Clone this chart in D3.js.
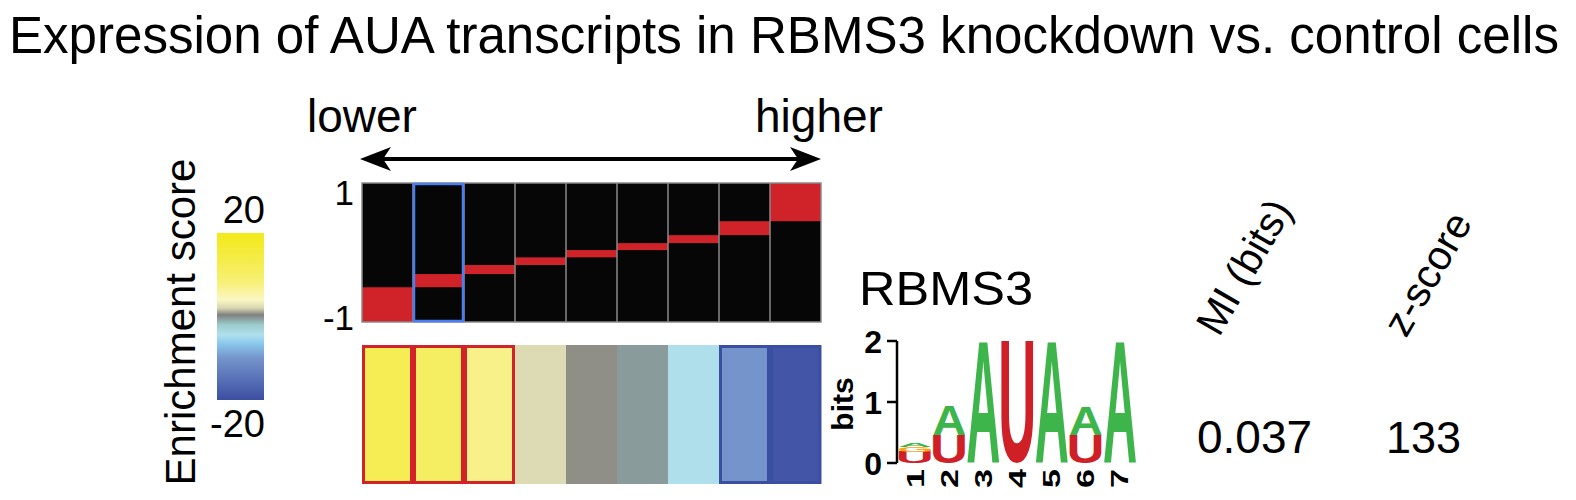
<!DOCTYPE html>
<html><head><meta charset="utf-8">
<script src="https://cdn.jsdelivr.net/npm/d3@7"></script>
<style>body{margin:0;background:#fff}svg{display:block}text{font-family:"Liberation Sans",Arial,sans-serif;fill:#000}</style>
</head><body><svg id="c" width="1576" height="500"></svg>
<script>
// ---------- data ----------
const titleText = "Expression of AUA transcripts in RBMS3 knockdown vs. control cells";
const directionLabels = ["lower", "higher"];
const binIndex = [0, 1, 2, 3, 4, 5, 6, 7, 8];
const binEdges = [-1, -0.50, -0.31, -0.18, -0.07, 0.035, 0.135, 0.25, 0.45, 1];
const enrichment = [12.3, 10.6, 7.2, 2.3, 0.67, -0.46, -4.3, -10, -19];
const significance = [1, 1, 1, 0, 0, 0, 0, -1, -1];
const highlightedBin = 1;
const colorStopValues = [20, 12, 8, 4, 2, 0.4, -2, -4.4, -6.3, -10, -20];
const colorStopColors = ["#f2ea18", "#f5ed55", "#f7f07a", "#fbf7c4", "#d8d6b0", "#808080", "#9ccccc", "#b0e0ec", "#8ccaee", "#7494cb", "#3c4ea2"];
const colorbarTicks = [20, -20];
const profileTicks = [1, -1];
const motifName = "RBMS3";
const motifPositions = [1, 2, 3, 4, 5, 6, 7];
const bitsU = [0.18, 0.46, 0, 2.0, 0, 0.46, 0];
const bitsG = [0.09, 0, 0, 0, 0, 0, 0];
const bitsA = [0.07, 0.49, 2.0, 0, 2.0, 0.46, 2.0];
const bitsTicks = [0, 1, 2];
const statHeaders = ["MI (bits)", "z-score"];
const statValues = ["0.037", "133"];

(function () {
const svg = d3.select("#c");

svg.append("text").attr("x", 9).attr("y", 53).attr("font-size", 51)
  .attr("textLength", 1550).attr("lengthAdjust", "spacingAndGlyphs").text(titleText);

// ---------- scales ----------
const x = d3.scaleBand().domain(binIndex).range([362, 821]).paddingInner(0);
const yProf = d3.scaleLinear().domain([-1, 1]).range([322, 183]);
const color = d3.scaleLinear().domain(colorStopValues).range(colorStopColors).clamp(true);

// ---------- direction arrow ----------
const ay = 159;
svg.append("line").attr("x1", 375).attr("x2", 807).attr("y1", ay).attr("y2", ay)
  .attr("stroke", "#000").attr("stroke-width", 4);
svg.append("path").attr("d", `M360,${ay} L391,${ay-12} L383,${ay} L391,${ay+12} Z`).attr("fill", "#000");
svg.append("path").attr("d", `M821,${ay} L790,${ay-12} L798,${ay} L790,${ay+12} Z`).attr("fill", "#000");
svg.append("text").attr("x", 307).attr("y", 132).attr("font-size", 46).text(directionLabels[0]);
svg.append("text").attr("x", 755).attr("y", 132).attr("font-size", 46).text(directionLabels[1]);

// ---------- top profile panel ----------
const topG = svg.append("g");
topG.selectAll("rect.bg").data(binIndex).join("rect")
  .attr("x", d => x(d)).attr("width", x.bandwidth())
  .attr("y", yProf(1)).attr("height", yProf(-1) - yProf(1))
  .attr("fill", "#060606");
topG.selectAll("rect.band").data(binIndex).join("rect")
  .attr("x", d => x(d)).attr("width", x.bandwidth())
  .attr("y", d => yProf(binEdges[d + 1])).attr("height", d => yProf(binEdges[d]) - yProf(binEdges[d + 1]))
  .attr("fill", "#cf2229");
topG.selectAll("line.sep").data(binIndex.slice(1)).join("line")
  .attr("x1", d => x(d)).attr("x2", d => x(d)).attr("y1", yProf(1)).attr("y2", yProf(-1))
  .attr("stroke", "#8a8a8a").attr("stroke-width", 1.5);
topG.append("rect").attr("x", x(0)).attr("y", yProf(1)).attr("width", x.range()[1] - x(0))
  .attr("height", yProf(-1) - yProf(1)).attr("fill", "none").attr("stroke", "#8a8a8a").attr("stroke-width", 1.5);
topG.append("rect").attr("x", x(highlightedBin) + 1).attr("y", yProf(1) + 1)
  .attr("width", x.bandwidth() - 2).attr("height", yProf(-1) - yProf(1) - 2)
  .attr("fill", "none").attr("stroke", "#4a7cf2").attr("stroke-width", 2.5);
topG.selectAll("text.tick").data(profileTicks).join("text")
  .attr("x", 354).attr("y", d => d === 1 ? 205 : 330)
  .attr("text-anchor", "end").attr("font-size", 35).text(d => d);

// ---------- bottom enrichment panel ----------
const yB0 = 345, yB1 = 484;
const botG = svg.append("g");
botG.selectAll("rect.cell").data(binIndex).join("rect")
  .attr("x", d => x(d)).attr("width", x.bandwidth() + 0.5)
  .attr("y", yB0).attr("height", yB1 - yB0)
  .attr("fill", d => color(enrichment[d]));
botG.selectAll("rect.sig").data(binIndex.filter(d => significance[d] !== 0)).join("rect")
  .attr("x", d => x(d) + 1.5).attr("width", x.bandwidth() - 3)
  .attr("y", yB0 + 1.5).attr("height", yB1 - yB0 - 3)
  .attr("fill", "none").attr("stroke-width", 3)
  .attr("stroke", d => significance[d] > 0 ? "#d2232a" : "#3a4ea2");

// ---------- colorbar ----------
const cbX = 217, cbW = 47, cbY0 = 233, cbY1 = 400;
const yCb = d3.scaleLinear().domain([20, -20]).range([cbY0, cbY1]);
const grad = svg.append("defs").append("linearGradient").attr("id", "cbg")
  .attr("x1", 0).attr("y1", 0).attr("x2", 0).attr("y2", 1);
grad.selectAll("stop").data(colorStopValues).join("stop")
  .attr("offset", d => (yCb(d) - cbY0) / (cbY1 - cbY0))
  .attr("stop-color", d => color(d));
svg.append("rect").attr("x", cbX).attr("y", cbY0).attr("width", cbW).attr("height", cbY1 - cbY0)
  .attr("fill", "url(#cbg)");
svg.selectAll("text.cbt").data(colorbarTicks).join("text")
  .attr("x", 265).attr("y", d => d > 0 ? 223 : 437)
  .attr("text-anchor", "end").attr("font-size", 38).text(d => d);
svg.append("text").attr("transform", "translate(195,322) rotate(-90)")
  .attr("text-anchor", "middle").attr("font-size", 42).text("Enrichment score");

// ---------- motif logo ----------
svg.append("text").attr("x", 859).attr("y", 305).attr("font-size", 48)
  .attr("textLength", 174).attr("lengthAdjust", "spacingAndGlyphs").text(motifName);
const yLogo = d3.scaleLinear().domain([0, 2]).range([463, 341]);
const xLogo = d3.scaleBand().domain(motifPositions).range([899, 1136]).paddingInner(0.06);
const logo = svg.append("g");
logo.append("line").attr("x1", 897).attr("x2", 897).attr("y1", yLogo(2)).attr("y2", yLogo(0))
  .attr("stroke", "#000").attr("stroke-width", 2.5);
logo.selectAll("line.t").data(bitsTicks).join("line")
  .attr("x1", 887).attr("x2", 897).attr("y1", d => yLogo(d)).attr("y2", d => yLogo(d))
  .attr("stroke", "#000").attr("stroke-width", 2.5);
logo.selectAll("text.t").data(bitsTicks).join("text")
  .attr("x", 882).attr("y", d => yLogo(d) + 11.5).attr("text-anchor", "end")
  .attr("font-size", 32).attr("font-weight", "bold").text(d => d);
logo.append("text").attr("transform", "translate(853,404) rotate(-90)")
  .attr("text-anchor", "middle").attr("font-size", 30).attr("font-weight", "bold").text("bits");

const ctx = document.createElement("canvas").getContext("2d");
ctx.font = "bold 100px 'Liberation Sans'";
function ink(ch) {
  const m = ctx.measureText(ch);
  return { l: m.actualBoundingBoxLeft, r: m.actualBoundingBoxRight, a: m.actualBoundingBoxAscent, d: m.actualBoundingBoxDescent };
}
const letterColor = { A: "#3db54a", U: "#d02027", G: "#f7a51c" };
const stackOrder = [["U", bitsU], ["G", bitsG], ["A", bitsA]];
motifPositions.forEach((p, i) => {
  let base = 0;
  stackOrder.forEach(([ch, arr]) => {
    const h = arr[i];
    if (h <= 0) return;
    const b = ink(ch);
    const x0 = xLogo(p), w = xLogo.bandwidth();
    const yBot = yLogo(base), yTop = yLogo(base + h);
    const sx = w / (b.l + b.r), sy = (yBot - yTop) / (b.a + b.d);
    logo.append("text")
      .attr("transform", `translate(${x0 + sx * b.l},${yBot - sy * b.d}) scale(${sx},${sy})`)
      .attr("font-size", 100).attr("font-weight", "bold").style("fill", letterColor[ch])
      .text(ch);
    base += h;
  });
});
logo.selectAll("text.pos").data(motifPositions).join("text")
  .attr("transform", d => `translate(${xLogo(d) + xLogo.bandwidth() / 2 + 8.5},488) rotate(-90)`)
  .attr("text-anchor", "start").attr("font-size", 24).attr("font-weight", "bold")
  .attr("textLength", 19).attr("lengthAdjust", "spacingAndGlyphs").text(d => d);

// ---------- stats ----------
svg.append("text").attr("transform", "translate(1219,338) rotate(-60)").attr("font-size", 41).text(statHeaders[0]);
svg.append("text").attr("transform", "translate(1406,339) rotate(-60)").attr("font-size", 41).text(statHeaders[1]);
svg.append("text").attr("x", 1197).attr("y", 453).attr("font-size", 46).text(statValues[0]);
svg.append("text").attr("x", 1386).attr("y", 453).attr("font-size", 45).text(statValues[1]);
})();
</script></body></html>
